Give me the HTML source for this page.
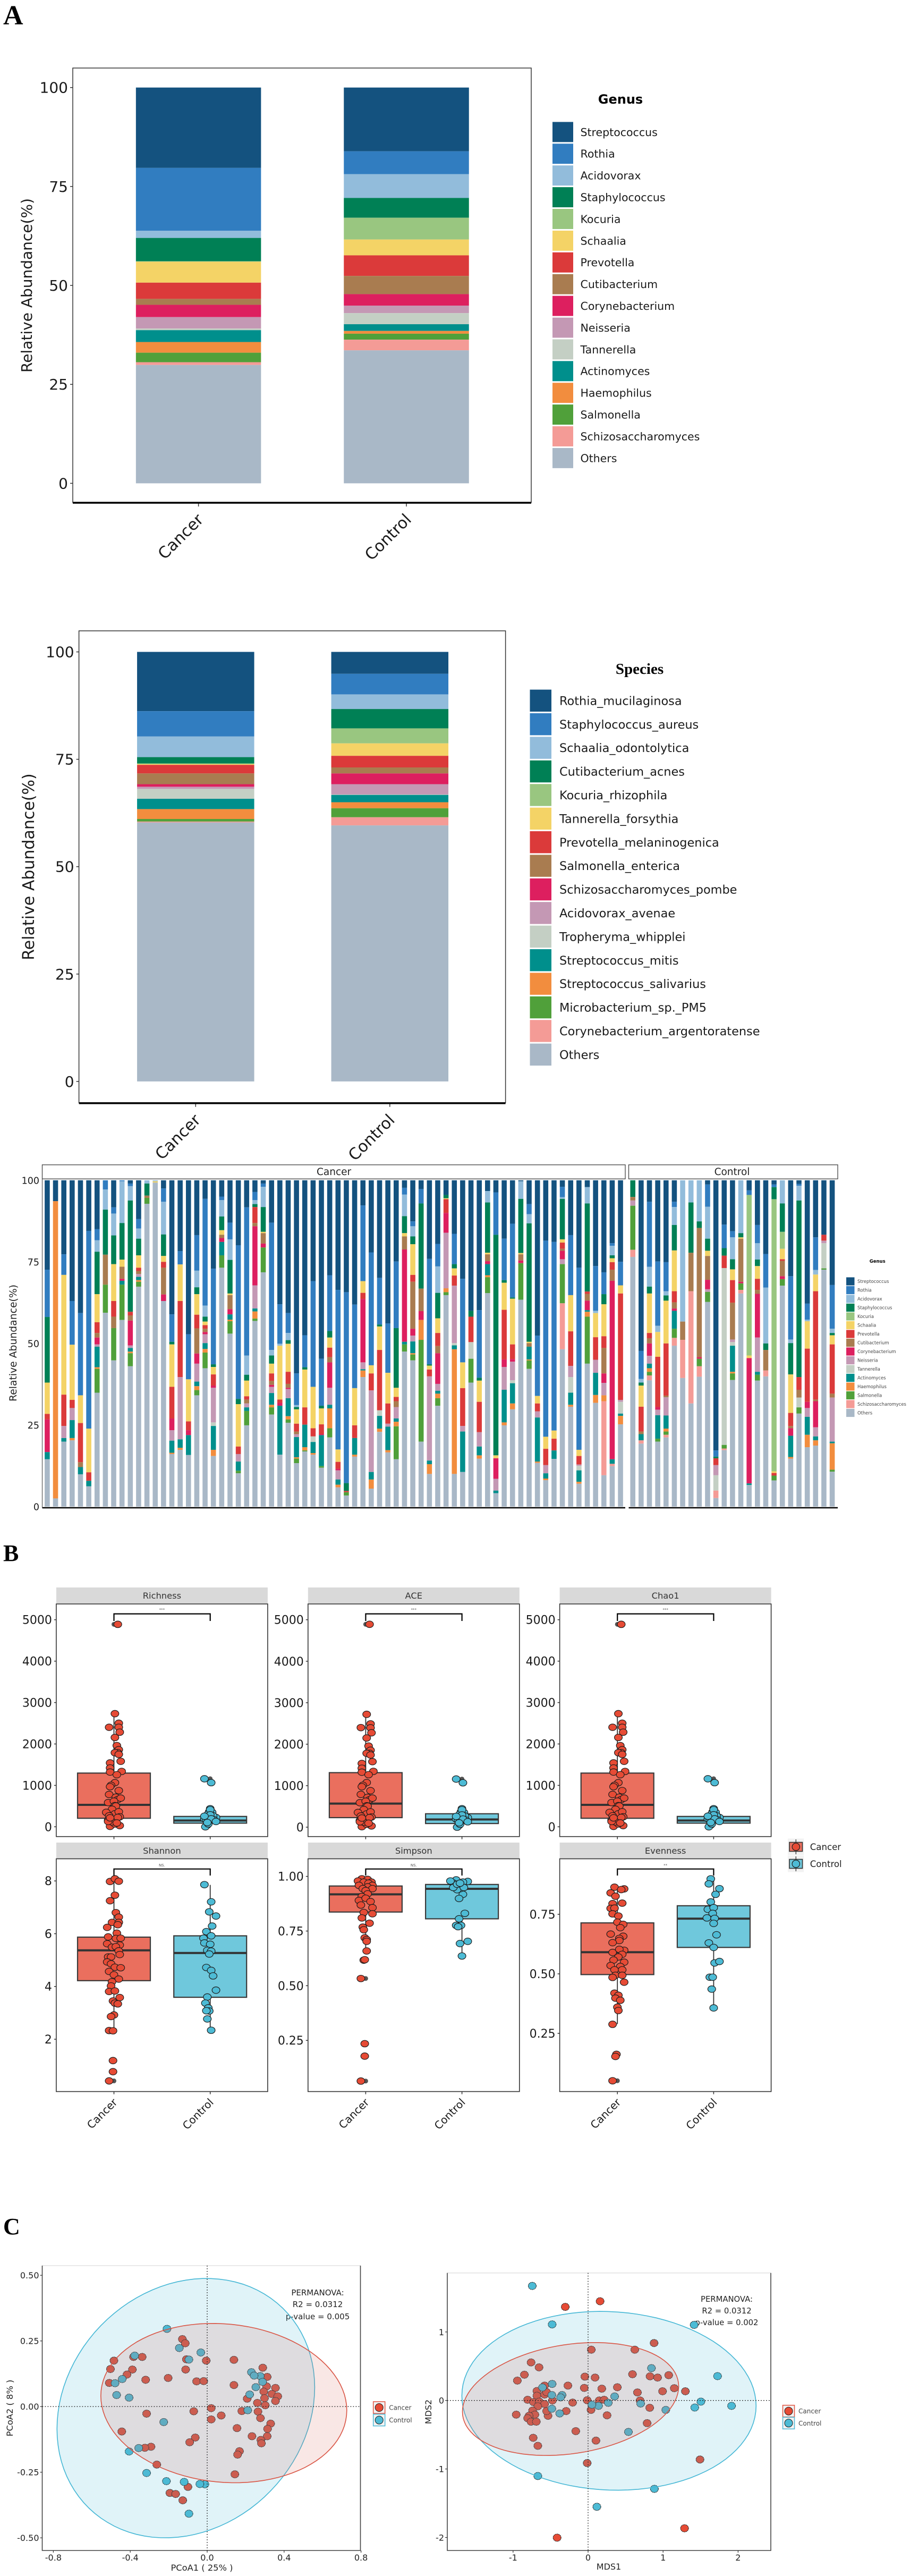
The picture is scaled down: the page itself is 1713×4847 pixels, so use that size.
<!DOCTYPE html>
<html lang="en">
<head>
<meta charset="utf-8">
<title>Microbiome composition, alpha and beta diversity figure</title>
<style>
html,body{margin:0;padding:0;background:#fff;}
svg{display:block;}
text{font-family:"DejaVu Sans","Liberation Sans",sans-serif;}
.panel-letter{font-family:"Liberation Serif",serif;font-weight:bold;fill:#000;}
</style>
</head>
<body>
<svg id="fig" xmlns="http://www.w3.org/2000/svg" width="1713" height="4847" viewBox="0 0 1713 4847">
  <text class="panel-letter" x="6" y="46" font-size="52">A</text>
  <text class="panel-letter" x="6" y="2937" font-size="44">B</text>
  <text class="panel-letter" x="6" y="4204" font-size="44">C</text>
  <g id="genus-chart">
    <text x="1168" y="195" font-size="24" font-weight="bold" text-anchor="middle">Genus</text>
  </g>
  <g id="species-chart">
    <text x="1204" y="1268" font-size="29" font-weight="bold" text-anchor="middle" style="font-family:'Liberation Serif',serif">Species</text>
  </g>
  <g id="sample-chart">
    <text x="1651.7" y="2376" font-size="8.5" font-weight="bold" text-anchor="middle">Genus</text>
    <text x="628.6" y="2211" font-size="18.5" text-anchor="middle" fill="#222">Cancer</text>
    <text x="1378" y="2211" font-size="18.5" text-anchor="middle" fill="#222">Control</text>
    <text transform="translate(31 2527) rotate(-90)" font-size="18.8" text-anchor="middle" fill="#222">Relative Abundance(%)</text>
  </g>
  <g id="alpha-chart"></g>
  <g id="pcoa-chart">
    <text x="598" y="4319" font-size="15" text-anchor="middle" fill="#222">PERMANOVA:</text>
    <text x="598" y="4341" font-size="15" text-anchor="middle" fill="#222">R2 = 0.0312</text>
    <text x="598" y="4364" font-size="15" text-anchor="middle" fill="#222">p-value = 0.005</text>
    <text x="380" y="4837" font-size="16.3" text-anchor="middle" fill="#222">PCoA1 ( 25% )</text>
    <text transform="translate(24 4531) rotate(-90)" font-size="16.3" text-anchor="middle" fill="#222">PCoA2 ( 8% )</text>
  </g>
  <g id="nmds-chart">
    <text x="1368" y="4331" font-size="14.8" text-anchor="middle" fill="#222">PERMANOVA:</text>
    <text x="1368" y="4353" font-size="14.8" text-anchor="middle" fill="#222">R2 = 0.0312</text>
    <text x="1368" y="4375" font-size="14.8" text-anchor="middle" fill="#222">p-value = 0.002</text>
    <text x="1146" y="4835" font-size="16" text-anchor="middle" fill="#222">MDS1</text>
    <text transform="translate(812 4538) rotate(-90)" font-size="16" text-anchor="middle" fill="#222">MDS2</text>
  </g>
</svg>
<script>
/* ---------- shared colours and categories ---------- */
const palette = ['#14527f','#317dc0','#92bcdb','#008055','#99c680','#f4d366','#db3a3a','#a97c50','#dd1f5f','#c498b4','#c4cfc4','#008f8c','#f28d3e','#50a03a','#f49b96','#a9b8c7'];
const groups = ['Cancer','Control'];
const percentTicks = [0,25,50,75,100];

/* ---------- A: genus composition ---------- */
const genusNames = ['Streptococcus','Rothia','Acidovorax','Staphylococcus','Kocuria','Schaalia','Prevotella','Cutibacterium','Corynebacterium','Neisseria','Tannerella','Actinomyces','Haemophilus','Salmonella','Schizosaccharomyces','Others'];
const genusCancer = [20.3,15.9,1.8,5.9,0.1,5.3,4.1,1.5,3.1,2.9,0.4,3.0,2.7,2.4,0.7,29.9];
const genusControl = [16.1,5.8,6.0,5.0,5.5,4.0,5.2,4.6,2.9,1.9,2.8,1.7,0.7,1.5,2.7,33.6];

/* ---------- A: species composition ---------- */
const speciesNames = ['Rothia_mucilaginosa','Staphylococcus_aureus','Schaalia_odontolytica','Cutibacterium_acnes','Kocuria_rhizophila','Tannerella_forsythia','Prevotella_melaninogenica','Salmonella_enterica','Schizosaccharomyces_pombe','Acidovorax_avenae','Tropheryma_whipplei','Streptococcus_mitis','Streptococcus_salivarius','Microbacterium_sp._PM5','Corynebacterium_argentoratense','Others'];
const speciesCancer = [13.8,5.9,4.8,1.5,0.1,0.2,2.0,2.5,0.6,0.5,2.3,2.4,2.3,0.6,0.2,60.3];
const speciesControl = [5.1,4.8,3.4,4.5,3.5,2.9,2.7,1.4,2.5,2.4,0.1,1.7,1.4,2.1,1.9,59.6];

/* ---------- A: per-sample genus stacks: [genus index, lower edge of that segment, %], read top-down ---------- */
const cancerSamples = [
[[0,72.6],[1,58.1],[3,38],[5,28.4],[6,26.7],[8,16.7],[11,14.5],[15,0]],
[[0,93.6],[12,2.5],[15,0]],
[[0,77.3],[1,71],[5,34.3],[6,24.7],[9,21],[11,19.9],[15,0]],
[[0,63],[1,49.6],[5,32.7],[6,30.2],[9,26.5],[11,21],[12,20.3],[15,0]],
[[0,59.3],[1,34.1],[5,25.6],[6,13.6],[7,12.1],[11,9.9],[15,0]],
[[0,84.5],[1,23.9],[5,10.5],[6,7.9],[11,6.2],[15,0]],
[[0,85],[1,81.6],[2,78.1],[3,65.1],[5,56.5],[6,53.2],[7,51.8],[8,49.7],[9,49],[11,42.7],[12,42.2],[13,34.9],[15,0]],
[[1,97.2],[2,91],[3,77.2],[7,68],[13,59.4],[15,0]],
[[0,91.7],[1,89.8],[2,83.1],[3,74.3],[5,63],[6,58.2],[7,54.7],[13,44.8],[15,0]],
[[1,99.7],[2,86.9],[3,75.7],[5,73.5],[7,69.8],[8,69.2],[11,68],[13,57.2],[15,0]],
[[0,99],[1,98.2],[2,93.8],[3,59.7],[6,58.6],[7,57],[8,49.4],[9,48.6],[11,47.5],[12,47],[13,43],[15,0]],
[[0,88.1],[1,85.2],[2,82.1],[3,77],[5,73.2],[6,72.2],[7,71.3],[9,70.4],[11,69.4],[12,68.9],[13,67.4],[15,0]],
[[2,99],[3,95.3],[7,94.6],[13,92.8],[15,0]],
[[2,99.7],[5,99.3],[15,0]],
[[0,97.5],[1,93.4],[2,83.4],[3,76.8],[5,75],[6,73.2],[7,65],[8,63],[15,0]],
[[0,58.9],[1,50.5],[3,49.7],[5,36.7],[6,27],[8,23.4],[9,20.2],[11,16.5],[12,16.1],[15,0]],
[[0,78.3],[1,74.2],[5,63],[6,39.7],[9,20.6],[11,18],[12,17.4],[15,0]],
[[0,52.8],[1,39],[5,26.1],[6,23.4],[8,21.9],[11,15.8],[15,0]],
[[0,83.2],[1,72.3],[2,67.2],[3,65.1],[5,58.8],[6,54.6],[7,46.9],[8,43.8],[9,38.3],[11,36.9],[12,35.7],[13,34.1],[15,0]],
[[0,94.3],[1,61.6],[2,58.2],[3,56.7],[5,55.6],[6,54.5],[7,53.5],[8,52.8],[9,50.1],[11,48.3],[12,47.2],[13,42.4],[15,0]],
[[0,72.9],[1,43.6],[3,42.8],[5,40.5],[6,37.1],[8,36.4],[9,25.8],[10,24.7],[11,17.4],[12,15.5],[15,0]],
[[0,95],[1,93.9],[2,88.9],[3,84.7],[5,83.3],[7,82.3],[8,81.1],[11,77],[13,73.2],[15,0]],
[[0,87],[1,81.9],[2,75.6],[3,65.3],[5,64.8],[7,60.5],[8,58.9],[11,57.3],[12,56.8],[13,53],[15,0]],
[[0,80.1],[1,33],[3,31.4],[5,18.4],[6,16.1],[9,13.8],[11,11],[13,10.2],[15,0]],
[[0,91.7],[1,46.3],[2,40.4],[3,38.6],[5,33.8],[6,32.8],[7,31.6],[9,30.4],[11,29.3],[13,24.9],[15,0]],
[[0,96.4],[1,93.9],[2,92.7],[3,91.8],[6,86.9],[7,85.9],[8,67.8],[9,60.7],[11,59.8],[12,57.6],[13,56.9],[15,0]],
[[0,99],[1,98],[2,91.8],[3,84.2],[5,83.8],[7,80.6],[8,79.4],[13,71.8],[15,0]],
[[0,87],[1,48],[2,46.3],[3,43.8],[5,40.8],[6,38.5],[7,37.3],[8,36.7],[9,34.8],[11,31.2],[12,30.4],[13,28.2],[15,0]],
[[0,62],[1,49.9],[2,49.3],[5,32.8],[6,31.8],[8,30.9],[11,15.9],[15,0]],
[[0,59.3],[1,53.2],[2,51],[3,49.9],[5,41.3],[6,37.6],[7,36.4],[8,36],[9,33.2],[11,27.7],[12,26.7],[13,25.7],[15,0]],
[[0,40.8],[1,31.1],[2,30.5],[3,29.8],[5,25.4],[6,23],[7,22.2],[9,21.3],[11,15.1],[12,14.7],[13,13.3],[15,0]],
[[0,52.5],[1,42.7],[3,42],[5,30.4],[6,25.1],[11,18.2],[12,17.2],[13,16.9],[15,0]],
[[0,69.1],[1,36.7],[5,24],[6,21.5],[10,19.8],[11,16.4],[12,15.9],[15,0]],
[[0,45.3],[1,30.9],[3,30.1],[5,25.2],[6,22.2],[8,21.9],[11,12.4],[13,11.9],[15,0]],
[[0,70.9],[1,53.8],[3,51.8],[5,48.7],[6,45.8],[7,44.2],[8,36.4],[9,31.2],[11,30.1],[12,24],[13,21.2],[15,0]],
[[0,66.4],[1,17.5],[5,13.7],[6,11.6],[8,11.1],[9,8.3],[11,6.7],[12,5.9],[15,0]],
[[0,65.7],[1,7.2],[3,4.8],[6,4.4],[13,3.4],[15,0]],
[[0,61.9],[1,36.3],[5,24.9],[6,21],[11,15.9],[12,15.3],[15,0]],
[[0,92.3],[1,69.1],[5,65.5],[6,63.6],[8,44.2],[9,42.1],[11,41.7],[12,39.7],[15,0]],
[[0,77.9],[1,43.3],[5,40.8],[6,35.6],[9,10.6],[11,8.3],[12,5.5],[15,0]],
[[0,70.1],[1,55.8],[3,55.2],[5,48],[6,29.5],[10,27.8],[11,23.9],[12,22.9],[15,0]],
[[0,56.1],[1,41],[5,31.6],[6,25.4],[9,24.5],[11,17.3],[12,16.6],[15,0]],
[[0,75.1],[1,54.7],[3,36.4],[5,33.6],[6,32.3],[7,30.5],[9,27],[11,26],[12,24.6],[13,14.5],[15,0]],
[[0,97.7],[1,95.6],[2,89],[3,83.8],[5,82.8],[7,78.8],[8,50.5],[11,49.7],[13,47.5],[15,0]],
[[0,87.4],[1,85.9],[2,82.8],[3,80.4],[5,71],[6,68.9],[7,54.5],[8,52.4],[9,50.6],[11,47],[12,46.6],[13,44.8],[15,0]],
[[0,97.3],[1,92.9],[3,66.8],[7,59.9],[8,57.2],[12,51.1],[13,19.9],[15,0]],
[[0,75.9],[1,43.6],[3,43.2],[5,42],[6,39.9],[9,14.1],[11,13],[12,10],[15,0]],
[[0,80.5],[1,73.6],[2,65.5],[3,57.7],[5,53.2],[6,49.2],[7,47],[8,37.6],[9,35.5],[11,34.6],[12,33.2],[13,30.9],[15,0]],
[[0,95.5],[3,94.5],[5,94.2],[6,90],[8,83.9],[9,66.9],[12,65.7],[13,64.8],[15,0]],
[[0,83.6],[1,74.3],[3,73],[5,70.8],[6,67.7],[9,50.1],[10,49.4],[11,48.2],[12,10],[15,0]],
[[0,69.8],[1,44.2],[5,36.3],[6,24.7],[9,23],[11,10.6],[15,0]],
[[0,60],[3,58.2],[6,50.4],[10,45.3],[13,38],[15,0]],
[[0,60.2],[1,39.5],[3,38.6],[5,32.1],[6,22.8],[9,18.4],[11,15.7],[12,14.7],[15,0]],
[[0,96.7],[2,93.2],[3,77.8],[5,77.3],[7,75.2],[8,74.3],[11,70.9],[12,70.3],[13,65.4],[15,0]],
[[0,96.3],[1,83.3],[3,15.7],[5,14.8],[8,8.5],[9,4.9],[11,4.1],[15,0]],
[[0,82.1],[1,69.4],[3,68.6],[5,60.3],[6,45.1],[8,42.8],[9,35.8],[11,25.8],[12,24.9],[15,0]],
[[0,86.7],[1,64.1],[3,63.7],[5,49.7],[6,45.2],[8,44.4],[9,38.7],[10,37.8],[11,31.6],[12,29.8],[15,0]],
[[0,99.7],[2,94.3],[3,77.7],[5,77.3],[7,75.4],[8,74.6],[13,63.4],[15,0]],
[[0,92.7],[1,89.6],[2,86.8],[3,50.5],[5,50.1],[7,49],[11,45.1],[12,44.8],[13,42.2],[15,0]],
[[0,52.4],[1,33.9],[5,31.6],[6,29.2],[9,27.3],[11,13.8],[12,13.4],[15,0]],
[[0,81.5],[1,21.4],[5,17.7],[6,12.7],[9,10.2],[11,8.6],[12,8.1],[15,0]],
[[0,81.1],[1,23.3],[5,20.8],[6,17.2],[11,14.6],[15,0]],
[[0,98],[1,94.8],[2,94.3],[3,81.9],[5,80.9],[6,79],[7,78.4],[8,75.8],[9,74.3],[13,62.3],[14,48.2],[15,0]],
[[0,83.2],[1,64.8],[5,53.7],[6,43.1],[9,39.7],[10,34.9],[11,31.2],[12,30.6],[15,0]],
[[0,73.2],[1,17.4],[5,15.5],[6,12.9],[9,12.5],[10,11.1],[11,7.6],[12,7],[15,0]],
[[0,97.9],[2,92.9],[3,65.9],[6,65.2],[7,63.1],[8,60.2],[11,59.7],[12,58.2],[13,43.8],[15,0]],
[[0,73.7],[1,60],[2,59.3],[5,51.9],[6,45],[9,41],[11,34.2],[12,31.8],[15,0]],
[[0,71.8],[1,65.1],[3,62],[5,52.2],[6,48.6],[7,40.8],[8,37.9],[9,34.1],[12,32.3],[14,9.6],[15,0]],
[[0,80.7],[1,79.9],[2,77],[3,76.1],[5,74.9],[6,72.6],[7,69.2],[8,14.5],[11,13.1],[14,12.4],[15,0]],
[[0,75],[1,67.8],[5,65.3],[6,32.7],[9,32.1],[10,28.5],[11,27.8],[12,25.2],[15,0]]
];
const controlSamples = [
[[3,94.9],[7,93.8],[9,92.2],[13,78.7],[14,76.5],[15,0]],
[[0,47.7],[1,39.1],[2,38],[3,37.1],[5,30.6],[6,23],[7,22.2],[11,20.3],[14,19.3],[15,0]],
[[0,93.4],[1,73.5],[2,67.4],[3,65.3],[5,53.2],[6,51.6],[7,50],[8,46.2],[9,43.8],[11,42.4],[12,41.3],[13,40.2],[14,38.7],[15,0]],
[[0,75.1],[1,55.4],[2,53.5],[5,45.9],[6,30.5],[8,29.7],[9,28],[11,20.8],[13,19.9],[15,0]],
[[0,74.9],[1,66],[2,64.7],[3,63.1],[5,50],[6,34],[7,33.5],[9,27.9],[11,23.9],[12,23],[13,22],[14,21.2],[15,0]],
[[0,93.4],[1,91.8],[2,86.3],[3,78.5],[5,66],[6,62.6],[7,60.7],[8,60],[11,54.5],[13,51.7],[14,49.3],[15,0]],
[[2,56.7],[7,51.1],[14,39.4],[15,0]],
[[2,93.2],[3,77.8],[7,66],[14,31.6],[15,0]],
[[2,87.4],[3,85.4],[7,45.8],[8,45.3],[13,43],[14,39.8],[15,0]],
[[0,98.7],[1,91.9],[2,82.1],[3,78.4],[5,76.8],[7,69.5],[8,66.6],[9,65.8],[13,62.7],[15,0]],
[[0,17.2],[1,15.3],[3,14.8],[6,12.7],[9,9.6],[10,4.9],[14,2.6],[15,0]],
[[0,86.4],[1,79.2],[3,76.9],[6,73.1],[10,18.9],[13,17.8],[14,17.3],[15,0]],
[[0,84.4],[1,82.5],[2,75.8],[3,72.7],[5,69.4],[6,62.5],[7,51.2],[9,50.4],[10,49.3],[11,41.3],[12,40.8],[13,38.8],[15,0]],
[[2,83.8],[3,82.5],[5,82.1],[7,68.9],[8,68.4],[13,66.4],[14,65.3],[15,0]],
[[0,96.9],[1,95.5],[4,46.3],[5,45.5],[8,7.1],[11,6.6],[15,0]],
[[0,86.3],[1,80.7],[2,75.7],[3,73.7],[5,69.8],[6,66.4],[7,65.2],[8,51.8],[9,41.3],[11,40.4],[13,38.6],[15,0]],
[[0,77.4],[1,67.1],[2,50],[3,48],[7,41.7],[14,39.9],[15,0]],
[[0,98.7],[1,97.9],[3,94.2],[4,10.8],[5,10.3],[6,9.5],[13,8],[15,0]],
[[2,92.9],[3,84.2],[4,79],[5,75.8],[6,75.3],[7,70.6],[8,69.7],[13,67.7],[15,0]],
[[0,70.6],[1,51.2],[2,50.1],[3,40.5],[5,28.7],[6,24.7],[7,24],[8,21.7],[11,15.2],[12,14.7],[15,0]],
[[0,98.9],[1,98.3],[2,93.8],[3,39.7],[6,35.8],[7,33.4],[10,30.4],[13,28.5],[15,0]],
[[0,62.2],[1,57.3],[2,56.8],[5,48.4],[6,32.1],[8,30.2],[9,27.5],[11,22],[12,18.2],[15,0]],
[[0,82.5],[1,72.5],[2,71.1],[5,66],[6,32.8],[7,32.3],[8,24.3],[9,21.5],[11,20.3],[12,18.7],[15,0]],
[[0,83.3],[6,81.5],[9,80.7],[10,73],[13,72.6],[15,0]],
[[0,67.9],[1,54.5],[2,53.2],[3,52.5],[5,49.7],[6,34.6],[7,33.4],[9,19.9],[11,19.4],[12,11.3],[13,10.7],[15,0]]
];

/* ---------- B: alpha diversity values: [value, jitter as a fraction of group spacing] ---------- */
const richnessTicks = [0,1000,2000,3000,4000,5000];
const shannonTicks = [2,4,6,8];
const simpsonTicks = [0.25,0.5,0.75,1];
const evennessTicks = [0.25,0.5,0.75];
const richnessCancer = [[4889,.04],[2732,.01],[2501,.05],[2403,-.05],[2403,.05],[2285,.06],[2157,.01],[1961,.03],[1862,.05],[1789,.04],[1789,.01],[1749,.05],[1582,.07],[1543,-.04],[1420,-.04],[1322,-.04],[1337,.08],[1258,.03],[1066,.01],[1002,-.03],[968,-.04],[875,.05],[781,-.05],[717,.02],[658,.04],[693,.07],[585,-.06],[619,0],[511,.01],[501,.02],[423,-.02],[349,-.08],[314,.01],[364,.05],[241,.06],[265,-.05],[226,.04],[157,-.06],[79,0],[44,-.03],[29,.06],[10,-.04],[69,.01],[118,-.02],[128,-.06],[93,.03],[216,-.04]];
const richnessControl = [[1160,-.06],[1066,.01],[437,0],[364,-.01],[349,.02],[256,-.03],[226,.06],[314,-.02],[44,-.03],[0,-.05],[69,-.02],[192,-.06],[265,.03],[413,0],[167,-.04],[167,.04],[143,-.02],[290,0],[192,.01],[256,-.06],[128,.06],[103,-.03]];
const aceCancer = [[4890,.04],[2720,.01],[2490,.05],[2400,-.05],[2395,.05],[2275,.06],[2150,.01],[1955,.03],[1855,.05],[1780,.04],[1780,.01],[1740,.05],[1580,.07],[1535,-.04],[1420,-.04],[1325,-.04],[1345,.08],[1265,.03],[1075,.01],[1010,-.03],[975,-.04],[880,.05],[790,-.05],[720,.02],[660,.04],[700,.07],[590,-.06],[625,0],[515,.01],[505,.02],[425,-.02],[355,-.08],[320,.01],[370,.05],[245,.06],[270,-.05],[230,.04],[160,-.06],[80,0],[45,-.03],[30,.06],[12,-.04],[70,.01],[120,-.02],[130,-.06],[95,.03],[220,-.04]];
const aceControl = [[1160,-.06],[1070,.01],[445,0],[370,-.01],[355,.02],[260,-.03],[230,.06],[320,-.02],[45,-.03],[0,-.05],[70,-.02],[195,-.06],[270,.03],[420,0],[170,-.04],[170,.04],[145,-.02],[295,0],[195,.01],[260,-.06],[130,.06],[105,-.03]];
const chao1Cancer = [[4889,.04],[2732,.01],[2501,.05],[2403,-.05],[2403,.05],[2285,.06],[2157,.01],[1961,.03],[1862,.05],[1789,.04],[1789,.01],[1749,.05],[1582,.07],[1543,-.04],[1420,-.04],[1322,-.04],[1337,.08],[1258,.03],[1066,.01],[1002,-.03],[968,-.04],[875,.05],[781,-.05],[717,.02],[658,.04],[693,.07],[585,-.06],[619,0],[511,.01],[501,.02],[423,-.02],[349,-.08],[314,.01],[364,.05],[241,.06],[265,-.05],[226,.04],[157,-.06],[79,0],[44,-.03],[29,.06],[10,-.04],[69,.01],[118,-.02],[128,-.06],[93,.03],[216,-.04]];
const chao1Control = [[1160,-.06],[1066,.01],[437,0],[364,-.01],[349,.02],[256,-.03],[226,.06],[314,-.02],[44,-.03],[0,-.05],[69,-.02],[192,-.06],[265,.03],[413,0],[167,-.04],[167,.04],[143,-.02],[290,0],[192,.01],[256,-.06],[128,.06],[103,-.03]];
const shannonCancer = [[7.98,-.04],[8.08,.01],[7.99,.05],[7.46,.01],[7.25,-.04],[6.8,.02],[6.63,.05],[6.43,-.02],[6.43,.05],[6.34,.04],[6.24,-.07],[6.02,.03],[5.88,-.06],[5.82,.02],[5.83,.07],[5.62,-.07],[5.57,.06],[5.49,-.02],[5.51,.02],[5.35,.05],[5.21,.06],[5.12,-.06],[5.12,-.03],[4.93,-.07],[4.86,-.03],[4.73,.01],[4.71,.07],[4.57,-.05],[4.44,0],[4.28,.05],[4.18,-.02],[4.02,-.03],[3.81,-.05],[3.83,.01],[3.58,.06],[3.45,-.01],[3.37,.01],[3.34,.04],[2.92,0],[2.86,-.03],[2.33,-.05],[2.32,-.01],[1.19,-.01],[.77,-.01],[.42,-.05]];
const shannonControl = [[7.86,-.06],[7.21,.01],[6.83,-.01],[6.67,.06],[6.29,.02],[6.08,-.04],[5.92,.01],[5.83,-.07],[5.65,-.06],[5.6,0],[5.37,-.03],[5.34,.01],[5.23,-.01],[4.72,-.04],[4.61,.01],[4.4,.03],[3.86,.06],[3.6,-.03],[3.37,-.05],[3.19,-.02],[3.07,-.01],[3.08,-.04],[2.77,-.03],[2.34,.01]];
const simpsonCancer = [[.989,-.04],[.986,.02],[.974,.06],[.979,-.08],[.974,-.02],[.969,.03],[.959,.07],[.959,-.07],[.952,.02],[.944,.07],[.944,-.03],[.935,0],[.92,.02],[.908,-.04],[.89,-.07],[.9,0],[.885,.05],[.869,-.05],[.857,.07],[.835,-.02],[.829,.07],[.81,-.04],[.786,.04],[.768,-.03],[.756,-.02],[.719,-.01],[.711,.01],[.703,.01],[.659,.01],[.617,-.02],[.619,-.01],[.533,-.05],[.235,-.01],[.178,-.01],[.064,-.05]];
const simpsonControl = [[.984,-.06],[.977,.06],[.974,.01],[.969,-.09],[.956,-.03],[.954,-.06],[.918,.01],[.899,-.03],[.831,.03],[.806,-.03],[.776,-.06],[.776,-.01],[.77,-.04],[.693,-.02],[.703,.06],[.636,0],[.959,-.08],[.944,-.02],[.939,-.05],[.949,.02],[.949,-.09],[.964,-.05],[.969,-.02],[.979,-.12]];
const evennessCancer = [[.864,-.03],[.857,.07],[.854,.04],[.84,-.07],[.826,-.02],[.795,-.05],[.797,.05],[.775,-.07],[.776,-.03],[.752,-.05],[.743,.01],[.717,0],[.708,.06],[.694,.03],[.667,-.07],[.658,.06],[.649,.02],[.64,.02],[.631,-.05],[.599,.07],[.59,-.05],[.603,.02],[.582,.05],[.571,.01],[.558,-.04],[.549,.07],[.535,-.07],[.531,.03],[.517,-.03],[.517,.05],[.494,-.02],[.494,.05],[.485,-.05],[.465,.07],[.419,-.03],[.41,.01],[.398,-.02],[.389,.03],[.36,0],[.346,.01],[.288,-.05],[.162,-.01],[.153,-.02],[.051,-.05]];
const evennessControl = [[.899,-.03],[.878,-.05],[.858,.06],[.834,.02],[.802,-.03],[.771,-.06],[.778,0],[.754,-.01],[.735,-.07],[.733,.01],[.712,0],[.664,.03],[.63,-.05],[.611,0],[.546,.01],[.552,.06],[.486,-.04],[.486,-.01],[.436,-.02],[.357,0]];
/* box statistics: [q1, median, q3, whisker low, whisker high] for Cancer then Control */
const richnessBox = [[206,530,1297,0,2732],[88,152,250,0,437]];
const aceBox = [[230,568,1314,0,2720],[88,186,323,0,445]];
const chao1Box = [[206,530,1297,0,2732],[88,152,250,0,437]];
const shannonBox = [[4.22,5.37,5.87,2.2,8.1],[3.59,5.27,5.92,2.33,7.85]];
const simpsonBox = [[.837,.918,.956,.66,.99],[.806,.943,.963,.636,.984]];
const evennessBox = [[.497,.591,.714,.289,.872],[.611,.732,.786,.357,.908]];
const richnessOutliers = [[4889],[1160]];
const aceOutliers = [[4890],[1160]];
const chao1Outliers = [[4889],[1160]];
const shannonOutliers = [[.42],[]];
const simpsonOutliers = [[.533,.064],[]];
const evennessOutliers = [[.051],[]];

/* ---------- C: ordination coordinates ---------- */
const pcoaXTicks = [-0.8,-0.4,0,0.4,0.8];
const pcoaYTicks = [-0.5,-0.25,0,0.25,0.5];
const pcoaCancer = [[-.129,.257],[-.114,.241],[-.338,.189],[-.485,.175],[-.503,.143],[-.389,.141],[-.417,.122],[-.32,.102],[-.509,.09],[-.203,.109],[-.108,.18],[-.112,.141],[-.005,.175],[.139,.178],[-.055,.096],[-.018,.097],[.139,.082],[.289,.148],[.312,.113],[.309,.077],[.355,.071],[.294,.057],[.336,.048],[.367,.039],[.355,.021],[.298,.032],[.208,.03],[.261,.014],[.302,.005],[.021,-.006],[-.07,-.018],[.073,-.034],[.021,-.049],[.18,-.017],[.264,-.019],[.277,-.044],[-.315,-.027],[.33,-.065],[.314,-.085],[.312,-.113],[.233,-.113],[.279,-.127],[.282,-.14],[.155,-.082],[-.444,-.095],[-.062,-.118],[-.091,-.136],[-.292,-.153],[-.324,-.157],[.168,-.17],[.158,-.183],[-.262,-.221],[.144,-.258],[-.1,-.306],[-.194,-.329],[-.164,-.333],[-.127,-.357],[-.383,.189]];
const pcoaControl = [[-.209,.296],[-.033,.206],[-.145,.223],[-.095,.179],[-.377,.194],[.23,.131],[.276,.116],[.244,.118],[.288,.094],[.253,.074],[.221,.046],[-.442,.105],[-.479,.089],[-.471,.044],[-.406,.034],[.211,-.014],[-.226,-.059],[-.356,-.158],[-.406,-.171],[-.315,-.253],[-.212,-.284],[-.12,-.287],[-.012,-.296],[-.038,-.295],[-.095,-.408]];
/* ellipse parameters: [centre x, centre y, half-width, half-height, correlation] */
const pcoaEllipseCancer = [.0865,.0133,.6395,.3034,-.09];
const pcoaEllipseControl = [-.111,-.006,.670,.494,.16];
const nmdsXTicks = [-1,0,1,2];
const nmdsYTicks = [-2,-1,0,1];
const nmdsCancer = [[-.304,1.366],[.16,1.448],[.88,.838],[.043,.741],[.623,.741],[-.76,.555],[-.654,.483],[-.849,.376],[-.943,.29],[-.043,.348],[.093,.334],[.592,.383],[.826,.352],[.927,.334],[1.075,.369],[-.269,.217],[-.051,.183],[.183,.172],[.39,.193],[.658,.117],[.993,.134],[1.149,.179],[1.297,.134],[-.58,.217],[-.682,.138],[-.682,.069],[-.806,.01],[-.728,-.024],[-.651,-.017],[-.58,.086],[-.553,.121],[-.475,0],[-.58,-.052],[-.67,-.086],[-.74,-.148],[-.709,-.207],[-.787,-.224],[-.806,-.259],[-.76,-.31],[-.69,-.31],[-.534,-.224],[-.553,-.155],[-.292,-.155],[-.206,-.031],[-.012,.003],[.148,0],[.214,.01],[.039,-.138],[.253,-.217],[.693,0],[.822,-.107],[.787,-.331],[-.958,-.207],[-.164,-.448],[-.732,-.545],[-.67,-.662],[.105,-.586],[1.492,-.862],[-.012,-.914],[1.286,-1.866],[-.413,-2.003]];
const nmdsControl = [[-.744,1.672],[-.479,1.11],[1.414,1.103],[.845,.472],[1.726,.355],[-.479,.241],[-.608,.19],[-.483,.079],[-.347,.079],[-.366,.045],[.354,.059],[.701,-.045],[.269,-.034],[.14,-.079],[.051,-.062],[1.036,-.138],[1.504,-.017],[1.422,-.103],[1.913,-.079],[-.483,-.121],[-.378,-.19],[.538,-.459],[-.67,-1.103],[.884,-1.29],[.117,-1.552]];
const nmdsEllipseCancer = [-.2335,.021,1.4415,.824,.224];
const nmdsEllipseControl = [.2785,-.005,1.9615,1.305,-.056];

/* ---------- helpers ---------- */
const NS = 'http://www.w3.org/2000/svg';
function make(parent, tag, attrs) {
  const el = document.createElementNS(NS, tag);
  for (const k in attrs) el.setAttribute(k, attrs[k]);
  parent.appendChild(el);
  return el;
}
function label(parent, str, x, y, size, extra) {
  const el = make(parent, 'text', Object.assign({x: x, y: y, 'font-size': size, fill: '#1a1a1a'}, extra || {}));
  el.textContent = str;
  return el;
}
function linear(v0, p0, v1, p1) {
  return function (v) { return p0 + (v - v0) * (p1 - p0) / (v1 - v0); };
}
const gid = function (id) { return document.getElementById(id); };

/* ---------- two-group stacked bars ---------- */
function drawGroupStack(root, cfg) {
  const y = linear(0, cfg.y0, 100, cfg.y100);
  [cfg.cancer, cfg.control].forEach(function (series, g) {
    let top = 100;
    series.forEach(function (val, i) {
      const bar = make(root, 'rect', {x: cfg.xc[g] - cfg.bw / 2, y: y(top), width: cfg.bw, height: y(top - val) - y(top), fill: palette[i]});
      
      
      top -= val;
    });
    const tick = make(root, 'line', {x1: cfg.xc[g], x2: cfg.xc[g], y1: cfg.bottom, y2: cfg.bottom + 7, stroke: '#333', 'stroke-width': 1.5});
    
    
    const px = cfg.xc[g] + 11, py = cfg.bottom + 33.5;
    const cat = label(root, groups[g], px, py, 30, {'text-anchor': 'end', transform: 'rotate(-45 ' + px + ' ' + py + ')'});
    
    
  });
  percentTicks.forEach(function (t) {
    const tk = make(root, 'line', {x1: cfg.left - 5, x2: cfg.left, y1: y(t), y2: y(t), stroke: '#333', 'stroke-width': 1.5});
    
    
    const lb = label(root, String(t), cfg.left - 9, y(t) + 10, 28, {'text-anchor': 'end'});
    
    
  });
  const frame = make(root, 'path', {d: 'M' + cfg.left + ' ' + cfg.bottom + 'V' + cfg.top + 'H' + cfg.right + 'V' + cfg.bottom, fill: 'none', stroke: '#333', 'stroke-width': 1.5});
  
  
  const base = make(root, 'line', {x1: cfg.left, x2: cfg.right, y1: cfg.bottom, y2: cfg.bottom, stroke: '#000', 'stroke-width': 3.5});
  
  
  const title = label(root, 'Relative Abundance(%)', 0, 0, cfg.titleSize, {'text-anchor': 'middle', transform: 'translate(' + cfg.titleX + ' ' + cfg.titleY + ') rotate(-90)'});
  
  
  cfg.names.forEach(function (n, i) {
    const cy = cfg.lgY + i * cfg.lgStep;
    const sw = make(root, 'rect', {x: cfg.lgX, y: cy - cfg.lgStep / 2 + 1.5, width: cfg.lgW, height: cfg.lgStep - 3, fill: palette[i]});
    
    
    const t = label(root, n, cfg.lgTx, cy + cfg.lgFont * 0.36, cfg.lgFont);
    
    
  });
}
drawGroupStack(gid('genus-chart'), {left:137, right:1000, top:128, bottom:946, y0:909.4, y100:164.7, xc:[373.6,765], bw:235.5, cancer:genusCancer, control:genusControl, names:genusNames, titleSize:28, titleX:60, titleY:537, lgX:1040, lgW:39, lgY:248.4, lgStep:40.9, lgTx:1092.5, lgFont:20.5});
drawGroupStack(gid('species-chart'), {left:148.6, right:951.6, top:1187, bottom:2075.7, y0:2034.8, y100:1226.6, xc:[368.3,733.8], bw:220.5, cancer:speciesCancer, control:speciesControl, names:speciesNames, titleSize:30, titleX:64, titleY:1631, lgX:997.5, lgW:40.5, lgY:1318.3, lgStep:44.4, lgTx:1053, lgFont:22.4});

/* ---------- per-sample stacked bars ---------- */
(function () {
  const root = gid('sample-chart');
  const y = linear(0, 2834.8, 100, 2220.8);
  const xIndex = function (start, i) { return start + 15.64 * i; };
  [[cancerSamples, 88.9], [controlSamples, 1191.2]].forEach(function (pair) {
    pair[0].forEach(function (sample, i) {
      let top = 100;
      sample.forEach(function (seg) {
        const r = make(root, 'rect', {x: xIndex(pair[1], i) - 4.8, y: y(top), width: 9.6, height: y(seg[1]) - y(top), fill: palette[seg[0]]});
        
        
        top = seg[1];
      });
    });
  });
  [[79.5,1177],[1183.5,1577]].forEach(function (s) {
    const st = make(root, 'rect', {x: s[0], y: 2191.7, width: s[1] - s[0], height: 26.5, fill: 'none', stroke: '#444', 'stroke-width': 1.3});
    
    
    const ax = make(root, 'line', {x1: s[0], x2: s[1], y1: 2837, y2: 2837, stroke: '#000', 'stroke-width': 2.5});
    
    
  });
  const yAxis = make(root, 'line', {x1: 79.5, x2: 79.5, y1: 2218, y2: 2837, stroke: '#555', 'stroke-width': 1.2});
  
  
  percentTicks.forEach(function (t) {
    const lb = label(root, String(t), 74, y(t) + 6.5, 17.5, {'text-anchor': 'end'});
    
    
  });
  genusNames.forEach(function (n, i) {
    const cy = 2411 + i * 16.5;
    const sw = make(root, 'rect', {x: 1593, y: cy - 7.6, width: 15.5, height: 15.2, fill: palette[i]});
    
    
    const t = label(root, n, 1614, cy + 3, 8.4, {fill: '#444'});
    
    
  });
})();

/* ---------- alpha diversity facets ---------- */
(function () {
  const root = gid('alpha-chart');
  const fill = ['#ea6f5e','#6fc8dc'];
  const dot = ['#e64b35','#4dbbd5'];
  const facets = [
    {name:'Richness', x0:105.9, row:0, scale:linear(0,3437.3,5000,3047.7), ticks:richnessTicks, dec:0, box:richnessBox, out:richnessOutliers, pts:[richnessCancer,richnessControl], sig:'***'},
    {name:'ACE', x0:579.8, row:0, scale:linear(0,3438,5000,3047.7), ticks:richnessTicks, dec:0, box:aceBox, out:aceOutliers, pts:[aceCancer,aceControl], sig:'***'},
    {name:'Chao1', x0:1053.6, row:0, scale:linear(0,3437.3,5000,3047.7), ticks:richnessTicks, dec:0, box:chao1Box, out:chao1Outliers, pts:[chao1Cancer,chao1Control], sig:'***'},
    {name:'Shannon', x0:105.9, row:1, scale:linear(2,3837,8,3539.2), ticks:shannonTicks, dec:0, box:shannonBox, out:shannonOutliers, pts:[shannonCancer,shannonControl], sig:'NS.'},
    {name:'Simpson', x0:579.8, row:1, scale:linear(.25,3839.2,1,3530.6), ticks:simpsonTicks, dec:2, box:simpsonBox, out:simpsonOutliers, pts:[simpsonCancer,simpsonControl], sig:'NS.'},
    {name:'Evenness', x0:1053.6, row:1, scale:linear(.25,3826,.75,3602), ticks:evennessTicks, dec:2, box:evennessBox, out:evennessOutliers, pts:[evennessCancer,evennessControl], sig:'**'}
  ];
  const rows = [
    {stripTop:2987, top:3018, bottom:3455.7, brTop:3036.6, brEnd:3050, sigY:3031},
    {stripTop:3467, top:3497.5, bottom:3935.5, brTop:3516.7, brEnd:3529, sigY:3512}
  ];
  facets.forEach(function (f) {
    const r = rows[f.row], w = 398;
    const g = make(root, 'g', {});
    
    
    const strip = make(g, 'rect', {x: f.x0, y: r.stripTop, width: w, height: 30, fill: '#d9d9d9'});
    
    
    const st = label(g, f.name, f.x0 + w / 2, r.stripTop + 21, 16.3, {'text-anchor': 'middle', fill: '#333'});
    
    
    const frame = make(g, 'rect', {x: f.x0, y: r.top, width: w, height: r.bottom - r.top, fill: '#fff', stroke: '#333', 'stroke-width': 1.6});
    
    
    const xc = function (groupIndex, jitter) { return f.x0 + 108.6 + (groupIndex + jitter) * 181.2; };
    f.ticks.forEach(function (t) {
      const tk = make(g, 'line', {x1: f.x0 - 4, x2: f.x0, y1: f.scale(t), y2: f.scale(t), stroke: '#333', 'stroke-width': 1.5});
      
      
      const lb = label(g, t.toFixed(f.dec), f.x0 - 8, f.scale(t) + 8, 22, {'text-anchor': 'end'});
      
      
    });
    groups.forEach(function (gName, i) {
      const b = f.box[i], cx = xc(i, 0);
      const wh = make(g, 'line', {x1: cx, x2: cx, y1: f.scale(b[3]), y2: f.scale(b[4]), stroke: '#333', 'stroke-width': 1.8});
      
      
      f.out[i].forEach(function (v) {
        const o = make(g, 'circle', {cx: cx, cy: f.scale(v), r: 4.5, fill: '#555'});
        
        
      });
      const rect = make(g, 'rect', {x: cx - 68.5, y: f.scale(b[2]), width: 137, height: f.scale(b[0]) - f.scale(b[2]), fill: fill[i], stroke: '#3a3a3a', 'stroke-width': 2.2});
      
      
      const med = make(g, 'line', {x1: cx - 68.5, x2: cx + 68.5, y1: f.scale(b[1]), y2: f.scale(b[1]), stroke: '#333', 'stroke-width': 4});
      
      
      f.pts[i].forEach(function (p) {
        const c = make(g, 'ellipse', {cx: xc(i, p[1]), cy: f.scale(p[0]), rx: 7.4, ry: 6.2, fill: dot[i], stroke: '#1c1c1c', 'stroke-width': 1.2});
        
        
      });
      const tk = make(g, 'line', {x1: cx, x2: cx, y1: r.bottom, y2: r.bottom + 5, stroke: '#333', 'stroke-width': 1.5});
      
      
      if (f.row === 1) {
        const px = cx + 7.5, py = r.bottom + 21.5;
        const cat = label(g, gName, px, py, 20, {'text-anchor': 'end', transform: 'rotate(-45 ' + px + ' ' + py + ')'});
        
        
      }
    });
    const br = make(g, 'path', {d: 'M' + xc(0,0) + ' ' + r.brEnd + 'V' + r.brTop + 'H' + xc(1,0) + 'V' + r.brEnd, fill: 'none', stroke: '#000', 'stroke-width': 2.2});
    
    
    const sg = label(g, f.sig, f.x0 + w / 2, r.sigY, 7, {'text-anchor': 'middle', fill: '#555'});
    
    
  });
  groups.forEach(function (n, i) {
    const cy = [3475, 3507][i];
    const bg = make(root, 'rect', {x: 1483, y: cy - 15.5, width: 30, height: 31, fill: '#f2f2f2'});
    
    
    const ln = make(root, 'line', {x1: 1498.3, x2: 1498.3, y1: cy - 14, y2: cy + 14, stroke: '#333', 'stroke-width': 1.3});
    
    
    const bx = make(root, 'rect', {x: 1486, y: cy - 8.5, width: 24.5, height: 17, fill: fill[i], stroke: '#333', 'stroke-width': 1.6});
    
    
    const c = make(root, 'ellipse', {cx: 1498.3, cy: cy, rx: 7.2, ry: 7, fill: dot[i], stroke: '#1c1c1c', 'stroke-width': 1.2});
    
    
    const t = label(root, n, 1524.7, cy + 6, 16.6, {fill: '#222'});
    
    
  });
})();

/* ---------- ordination scatter plots ---------- */
function drawOrdination(root, cfg) {
  const x = cfg.x, y = cfg.y;
  const frameTop = make(root, 'line', {x1: cfg.left, x2: cfg.right, y1: cfg.top, y2: cfg.top, stroke: '#e2e2e2', 'stroke-width': 1.5});
  
  
  const frame = make(root, 'path', {d: 'M' + cfg.left + ' ' + cfg.top + 'V' + cfg.bottom + 'H' + cfg.right + 'V' + cfg.top, fill: 'none', stroke: '#444', 'stroke-width': 1.6});
  
  
  const colours = ['#e64b35','#4dbbd5'];
  [[cfg.cancer,0],[cfg.control,1]].forEach(function (pair) {
    pair[0].forEach(function (p) {
      const c = make(root, 'ellipse', {cx: x(p[0]), cy: y(p[1]), rx: 7.5, ry: 6.9, fill: colours[pair[1]], stroke: '#1c1c1c', 'stroke-width': 1, 'stroke-dasharray': '2.5 .8'});
      
      
    });
  });
  [[cfg.ellControl,'#45b7d5','rgba(69,183,213,.17)'],[cfg.ellCancer,'#d95545','rgba(215,95,80,.15)']].forEach(function (item) {
    const e = item[0];
    let d = '';
    for (let k = 0; k <= 96; k++) {
      const t = k / 96 * 2 * Math.PI;
      const dx = e[0] + e[2] * Math.cos(t);
      const dy = e[1] + e[3] * (e[4] * Math.cos(t) + Math.sqrt(1 - e[4] * e[4]) * Math.sin(t));
      d += (k ? 'L' : 'M') + x(dx).toFixed(1) + ' ' + y(dy).toFixed(1);
    }
    const path = make(root, 'path', {d: d + 'Z', fill: item[2], stroke: item[1], 'stroke-width': 1.6});
    
    
  });
  const h0 = make(root, 'line', {x1: cfg.left, x2: cfg.right, y1: y(0), y2: y(0), stroke: '#222', 'stroke-width': 1.4, 'stroke-dasharray': '1.8 3.2'});
  
  
  const v0 = make(root, 'line', {x1: x(0), x2: x(0), y1: cfg.top, y2: cfg.bottom, stroke: '#222', 'stroke-width': 1.4, 'stroke-dasharray': '1.8 3.2'});
  
  
  cfg.xTicks.forEach(function (t) {
    const tk = make(root, 'line', {x1: x(t), x2: x(t), y1: cfg.bottom, y2: cfg.bottom + 4, stroke: '#333', 'stroke-width': 1.2});
    
    
    const lb = label(root, t.toFixed(cfg.xDec), x(t), 4818, 16, {'text-anchor': 'middle', fill: '#222'});
    
    
  });
  cfg.yTicks.forEach(function (t) {
    const tk = make(root, 'line', {x1: cfg.left - 4, x2: cfg.left, y1: y(t), y2: y(t), stroke: '#333', 'stroke-width': 1.2});
    
    
    const lb = label(root, t.toFixed(cfg.yDec), cfg.left - 6, y(t) + 6, 16, {'text-anchor': 'end', fill: '#222'});
    
    
  });
  groups.forEach(function (n, i) {
    const cy = cfg.lgY[i];
    const key = make(root, 'rect', {x: cfg.lgX - 11, y: cy - 11, width: 22, height: 22, fill: '#f3f3f3', stroke: ['#e25c4a','#55bcd8'][i], 'stroke-width': 1.6});
    
    
    const c = make(root, 'ellipse', {cx: cfg.lgX, cy: cy, rx: 7.5, ry: 7.5, fill: colours[i], stroke: '#1c1c1c', 'stroke-width': 1});
    
    
    const t = label(root, n, cfg.lgX + 18.5, cy + 4.5, 12, {fill: '#444'});
    
    
  });
}
drawOrdination(gid('pcoa-chart'), {left:79.5, right:678.5, top:4263, bottom:4799, x:linear(0,390,.4,534.8), y:linear(0,4528.2,.25,4404.7), xTicks:pcoaXTicks, yTicks:pcoaYTicks, xDec:1, yDec:2, cancer:pcoaCancer, control:pcoaControl, ellCancer:pcoaEllipseCancer, ellControl:pcoaEllipseControl, lgX:713.7, lgY:[4530,4553.6]});
drawOrdination(gid('nmds-chart'), {left:842, right:1451, top:4276.7, bottom:4799, x:linear(0,1107,1,1248.2), y:linear(0,4516.7,1,4387.8), xTicks:nmdsXTicks, yTicks:nmdsYTicks, xDec:0, yDec:0, cancer:nmdsCancer, control:nmdsControl, ellCancer:nmdsEllipseCancer, ellControl:nmdsEllipseControl, lgX:1484.5, lgY:[4536.7,4559.3]});
</script>
</body>
</html>
